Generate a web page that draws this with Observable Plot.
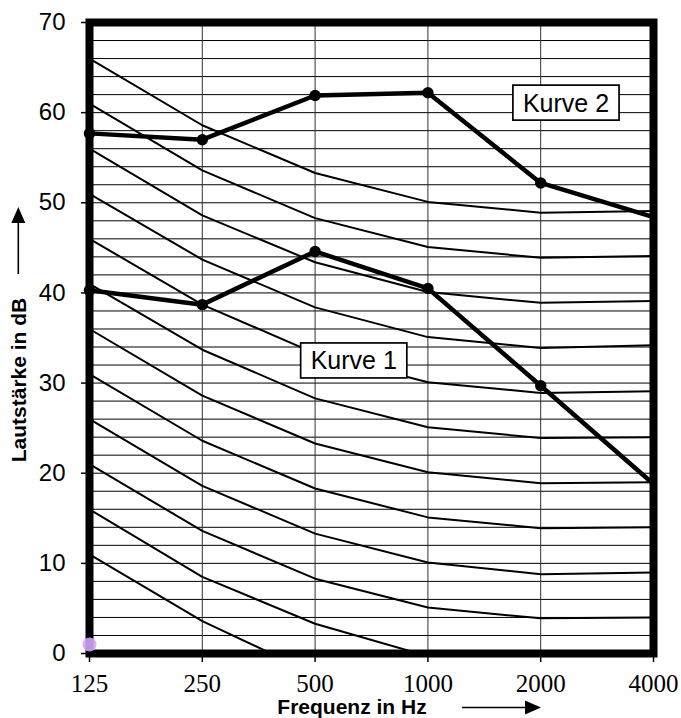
<!DOCTYPE html>
<html><head><meta charset="utf-8">
<script src="https://cdn.jsdelivr.net/npm/d3@7"></script>
<script src="https://cdn.jsdelivr.net/npm/@observablehq/plot@0.6"></script>
<style>body{margin:0;background:#fff} svg{display:block}</style>
</head><body><div id="chart"></div>
<script>
// ---- data ----
const freqs = [125, 250, 500, 1000, 2000, 4000];
const yTicks = [0, 10, 20, 30, 40, 50, 60, 70];
const gridLevels = [2,4,6,8,10,12,14,16,18,20,22,24,26,28,30,32,34,36,38,40,42,44,46,48,50,52,54,56,58,60,62,64,66,68];
const contourLevels = [66, 61, 56, 51, 46, 41, 36, 31, 26, 21, 16, 11];
const contourValues = [
  [66.0, 58.6, 53.3, 50.1, 48.9, 49.1],
  [61.0, 53.6, 48.3, 45.1, 43.9, 44.1],
  [56.0, 48.6, 43.4, 40.1, 38.9, 39.1],
  [51.0, 43.7, 38.4, 35.1, 33.9, 34.2],
  [46.0, 38.7, 33.3, 30.1, 28.9, 29.1],
  [41.0, 33.7, 28.3, 25.1, 23.9, 24.0],
  [36.0, 28.6, 23.3, 20.1, 18.9, 19.0],
  [31.0, 23.6, 18.3, 15.1, 13.9, 14.0],
  [26.0, 18.6, 13.3, 10.1,  8.8,  9.0],
  [21.0, 13.6,  8.3,  5.1,  3.9,  4.0],
  [16.0,  8.5,  3.3, -0.3, -1.2, -1.0],
  [11.0,  3.6, -2.3, -5.0, -6.0, -6.0]
];
const kurve1 = [40.3, 38.7, 44.6, 40.5, 29.7, 18.8];
const kurve2 = [57.7, 57.0, 61.9, 62.2, 52.2, 48.4];
const labelTexts = ["Kurve 1", "Kurve 2"];
const labelFreqs = [634, 2336];
const labelLevels = [32.4, 61.0];
const markerFreqs = [125];
const markerLevels = [1.0];

// ---- tables built from the arrays ----
const contourRows = contourLevels.flatMap((lvl, i) => freqs.map((f, j) => ({curve: lvl, f, v: contourValues[i][j]})));
const k1Rows = freqs.map((f, j) => ({f, v: kurve1[j]}));
const k2Rows = freqs.map((f, j) => ({f, v: kurve2[j]}));
const labelRows = labelTexts.map((t, i) => ({t, f: labelFreqs[i], v: labelLevels[i]}));
const markerRows = markerFreqs.map((f, i) => ({f, v: markerLevels[i]}));

const plot = Plot.plot({
  width: 681,
  height: 718,
  marginLeft: 89,
  marginRight: 28,
  marginTop: 22,
  marginBottom: 65,
  x: {type: "log", domain: [125, 4000]},
  y: {domain: [0, 70]},
  marks: [
    Plot.ruleY(gridLevels, {stroke: "black", strokeWidth: 1}),
    Plot.ruleX(freqs, {stroke: "#333", strokeWidth: 1}),
    Plot.line(contourRows, {x: "f", y: "v", z: "curve", stroke: "black", strokeWidth: 2, clip: true}),
    Plot.line(k1Rows, {x: "f", y: "v", stroke: "black", strokeWidth: 4.5}),
    Plot.line(k2Rows, {x: "f", y: "v", stroke: "black", strokeWidth: 4.5}),
    Plot.dot(k1Rows, {x: "f", y: "v", r: 5.7, fill: "black", stroke: "none", filter: d => d.f < 4000}),
    Plot.dot(k2Rows, {x: "f", y: "v", r: 5.7, fill: "black", stroke: "none", filter: d => d.f < 4000}),
    Plot.text(labelRows, {x: "f", y: "v", text: "t", fontSize: 25, fontFamily: "Liberation Sans, Arial, sans-serif", fill: "black", className: "kurve-label"}),
    Plot.axisY({ticks: yTicks, tickSize: 8, tickPadding: 16, fontSize: 24, fontFamily: "Liberation Sans, Arial, sans-serif", label: null, stroke: "black", strokeWidth: 1.5, fill: "black"}),
    Plot.axisX({ticks: freqs, tickFormat: d => String(d), tickSize: 9, tickPadding: 12, fontSize: 25, fontFamily: "Liberation Serif, Times New Roman, serif", label: null, stroke: "black", strokeWidth: 1.5, fill: "black"}),
    Plot.frame({stroke: "black", strokeWidth: 8}),
    Plot.dot(markerRows, {x: "f", y: "v", r: 7, fill: "#cfa6f5", fillOpacity: 0.9, stroke: "none"})
  ]
});
document.getElementById("chart").appendChild(plot);

const svg = d3.select(plot);
// boxes behind curve labels
svg.selectAll(".kurve-label text").each(function() {
  const b = this.getBBox();
  const padX = 10, h = 35;
  const cy = b.y + b.height / 2;
  const rect = d3.select(this.parentNode).insert("rect", () => this)
    .attr("x", b.x - padX).attr("y", cy - h / 2)
    .attr("width", b.width + 2 * padX).attr("height", h)
    .attr("fill", "white").attr("stroke", "black").attr("stroke-width", 1.7);
  const tr = this.getAttribute("transform");
  if (tr) rect.attr("transform", tr);
});

// axis titles with arrows
svg.append("text")
  .attr("transform", "translate(26,380) rotate(-90)")
  .attr("text-anchor", "middle")
  .attr("font-family", "Liberation Sans, Arial, sans-serif")
  .attr("font-weight", "bold").attr("font-size", 21).attr("fill", "black")
  .text("Lautstärke in dB");
svg.append("line").attr("x1", 18.3).attr("x2", 18.3).attr("y1", 274).attr("y2", 220)
  .attr("stroke", "black").attr("stroke-width", 1.6);
svg.append("path").attr("d", "M18.3,207 L11.3,223 L25.3,223 Z").attr("fill", "black");

svg.append("text")
  .attr("x", 352).attr("y", 714)
  .attr("text-anchor", "middle")
  .attr("font-family", "Liberation Sans, Arial, sans-serif")
  .attr("font-weight", "bold").attr("font-size", 21).attr("fill", "black")
  .text("Frequenz in Hz");
svg.append("line").attr("x1", 462).attr("x2", 528).attr("y1", 707.5).attr("y2", 707.5)
  .attr("stroke", "black").attr("stroke-width", 1.6);
svg.append("path").attr("d", "M541,707.5 L525,700.5 L525,714.5 Z").attr("fill", "black");
</script>
</body></html>
